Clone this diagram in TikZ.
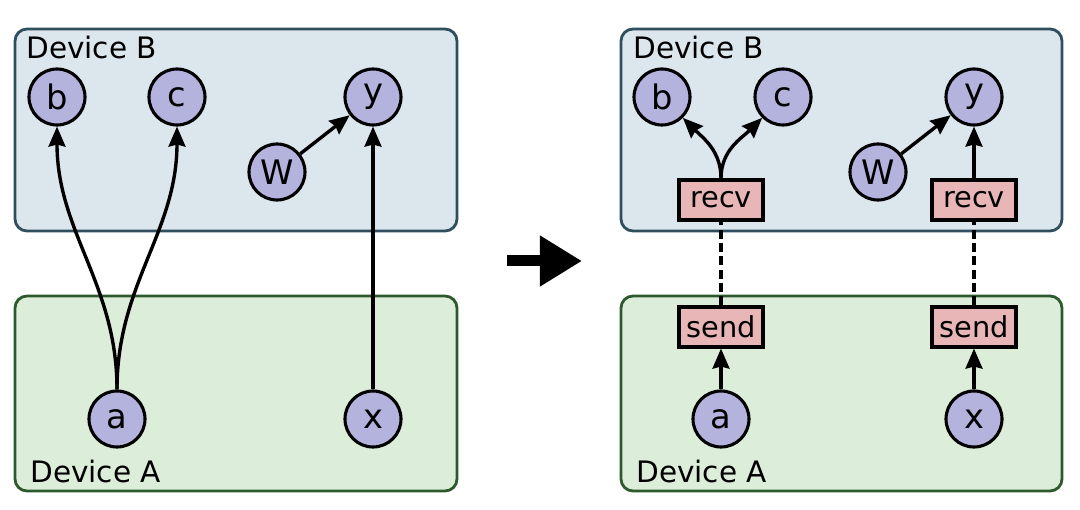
\documentclass[tikz,border=0pt]{standalone}
\usepackage{fontspec}
\setmainfont{DejaVu Sans}
\usetikzlibrary{arrows.meta}
\definecolor{devbfill}{HTML}{DCE6ED}
\definecolor{devbline}{HTML}{2F4F5F}
\definecolor{devafill}{HTML}{DCEDDA}
\definecolor{devaline}{HTML}{2D5A2D}
\definecolor{opfill}{HTML}{B3B3DD}
\definecolor{commfill}{HTML}{E8B6B6}
\begin{document}
\begin{tikzpicture}[x=0.025cm,y=-0.025cm]
\tikzstyle{op}=[circle, draw, fill=opfill, line width=2.2pt, minimum size=1.4cm, inner sep=0pt, font=\fontsize{24}{28}\selectfont]
\tikzstyle{comm}=[rectangle, draw, fill=commfill, line width=2.2pt, minimum width=2.1cm, minimum height=1cm, inner sep=0pt, font=\fontsize{20.5}{24}\selectfont]
\tikzstyle{devb}=[draw=devbline, fill=devbfill, line width=2pt, rounded corners=0.3cm]
\tikzstyle{deva}=[draw=devaline, fill=devafill, line width=2pt, rounded corners=0.3cm]
\tikzstyle{lbl}=[anchor=base west, inner sep=0pt, font=\fontsize{21}{25}\selectfont]
\tikzstyle{edge}=[line width=2.4pt, -{Stealth[length=0.5cm, width=0.42cm, inset=0.05cm]}]
\useasboundingbox (0,0) rectangle (1080,510);
% devices
\draw[devb] (15,29) rectangle (457,231);
\draw[deva] (15,296) rectangle (457,491);
\draw[devb] (621,29) rectangle (1062,231);
\draw[deva] (621,296) rectangle (1062,491);
\draw (26,59) node (lb1) [lbl] {Device B};
\draw (30,483) node (la1) [lbl] {Device A};
\draw (633,59) node (lb2) [lbl] {Device B};
\draw (636,483) node (la2) [lbl] {Device A};
% before
\draw (57,97) node (b1) [op] {b};
\draw (177,97) node (c1) [op] {c};
\draw (373,97) node (y1) [op] {y};
\draw (277,172) node (w1) [op] {W};
\draw (117,419) node (a1) [op] {a};
\draw (373,419) node (x1) [op] {x};
\draw[edge] (a1) to[out=90,in=-90] (b1);
\draw[edge] (a1) to[out=90,in=-90] (c1);
\draw[edge] (w1) -- (y1);
\draw[edge] (x1) -- (y1);
% big arrow
\coordinate (p1) at (507,261);
\coordinate (p2) at (582,261);
\draw[line width=0.275cm, -{Triangle[length=1.05cm, width=1.2cm]}] (p1) -- (p2);
% after
\draw (662,97) node (b2) [op] {b};
\draw (783,97) node (c2) [op] {c};
\draw (974,97) node (y2) [op] {y};
\draw (878,172) node (w2) [op] {W};
\draw (721,419) node (a2) [op] {a};
\draw (974,419) node (x2) [op] {x};
\draw (721,200) node (r1) [comm] {recv};
\draw (974,200) node (r2) [comm] {recv};
\draw (721,327) node (s1) [comm] {send};
\draw (974,327) node (s2) [comm] {send};
\draw[edge] (r1) to[out=90,in=-45] (b2);
\draw[edge] (r1) to[out=90,in=225] (c2);
\draw[edge] (w2) -- (y2);
\draw[edge] (r2) -- (y2);
\draw[edge] (a2) -- (s1);
\draw[edge] (x2) -- (s2);
\draw[line width=2.4pt, dash pattern=on 6.5pt off 3pt] (s1) -- (r1);
\draw[line width=2.4pt, dash pattern=on 6.5pt off 3pt] (s2) -- (r2);
\end{tikzpicture}
\end{document}
